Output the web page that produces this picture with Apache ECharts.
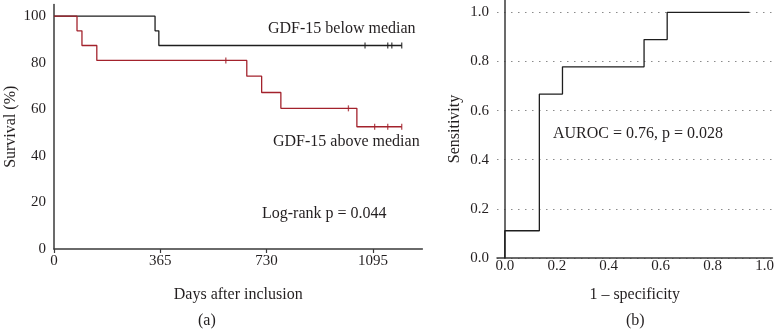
<!DOCTYPE html>
<html>
<head>
<meta charset="utf-8">
<script src="https://cdn.jsdelivr.net/npm/echarts@6/dist/echarts.min.js"></script>
<style>
  html, body { margin: 0; padding: 0; background: #fff; }
  #main { width: 777px; height: 335px; }
</style>
</head>
<body>
<div id="main"></div>
<script>
// Kaplan-Meier (a): days, survival %
var belowDays = [0, 347, 360, 1194];
var belowSurv = [100, 93.7, 87.4, 87.4];
var belowCensDays = [1068, 1146, 1160, 1194];
var belowCensSurv = [87.4, 87.4, 87.4, 87.4];

var aboveDays = [0, 79, 96, 147, 662, 713, 779, 1040, 1194];
var aboveSurv = [100, 93.7, 87.4, 81, 74.2, 67.2, 60.4, 52.5, 52.5];
var aboveCensDays = [590, 1011, 1101, 1146, 1194];
var aboveCensSurv = [81, 60.4, 52.5, 52.5, 52.5];

var kmXTicks = [0, 365, 730, 1095];
var kmYTicks = [0, 20, 40, 60, 80, 100];

// ROC (b)
var rocFpr = [0, 0.133, 0.222, 0.536, 0.625, 0.941];
var rocTpr = [0, 0.111, 0.667, 0.778, 0.889, 1.0];
var rocXTicks = [0, 0.2, 0.4, 0.6, 0.8, 1.0];
var rocYTicks = [0, 0.2, 0.4, 0.6, 0.8, 1.0];

function pairs(xs, ys) {
  return xs.map(function (x, i) { return [x, ys[i]]; });
}

var serif = 'Liberation Serif';
var txt = '#231f20';
var axisCol = '#3a3a3a';
var redCol = '#a3222c';
var font16 = '16px "Liberation Serif"';

var chart = echarts.init(document.getElementById('main'));
chart.setOption({
  animation: false,
  textStyle: { fontFamily: serif, color: txt },
  grid: [
    { left: 54, top: 4.5, width: 368.4, height: 244.5 },
    { left: 497, top: 0, width: 277, height: 258 }
  ],
  xAxis: [{
    gridIndex: 0, type: 'value', min: 0, max: 1265,
    name: 'Days after inclusion', nameLocation: 'middle', nameGap: 38,
    nameTextStyle: { fontFamily: serif, fontSize: 16, color: txt },
    axisLine: { lineStyle: { color: axisCol, width: 1.5 } },
    axisTick: { show: true, length: 4, customValues: kmXTicks, lineStyle: { color: axisCol, width: 1.2 } },
    axisLabel: {
      customValues: kmXTicks, margin: 5, fontFamily: serif, fontSize: 15, color: txt,
      formatter: function (v) { return String(v); }
    },
    splitLine: { show: false }
  }, {
    gridIndex: 1, type: 'value', min: -0.03, max: 1.03,
    name: '1 – specificity', nameLocation: 'middle', nameGap: 29,
    nameTextStyle: { fontFamily: serif, fontSize: 16, color: txt },
    axisLine: { lineStyle: { color: axisCol, width: 1.5 } },
    axisTick: { show: false, customValues: rocXTicks },
    axisLabel: {
      customValues: rocXTicks, margin: 1, fontFamily: serif, fontSize: 15, color: txt,
      formatter: function (v) { return v.toFixed(1); }
    },
    splitLine: { show: false }
  }],
  yAxis: [{
    gridIndex: 0, type: 'value', min: 0, max: 105,
    name: 'Survival (%)', nameLocation: 'middle', nameGap: 35,
    nameTextStyle: { fontFamily: serif, fontSize: 16, color: txt },
    axisLine: { show: true, lineStyle: { color: axisCol, width: 1.5 } },
    axisTick: { show: false, customValues: kmYTicks },
    axisLabel: { customValues: kmYTicks, margin: 8, fontFamily: serif, fontSize: 15, color: txt },
    splitLine: { show: false }
  }, {
    gridIndex: 1, type: 'value', min: 0, max: 1.05,
    name: 'Sensitivity', nameLocation: 'middle', nameGap: 34,
    nameTextStyle: { fontFamily: serif, fontSize: 16, color: txt },
    axisLine: { show: true, lineStyle: { color: axisCol, width: 1.5 } },
    axisTick: { show: false, customValues: rocYTicks },
    axisLabel: {
      customValues: rocYTicks, margin: 8, fontFamily: serif, fontSize: 15, color: txt,
      formatter: function (v) { return v.toFixed(1); }
    },
    splitLine: { show: true, lineStyle: { color: '#8a8a8a', width: 1, type: [1.5, 5.5] } }
  }],
  series: [{
    type: 'line', xAxisIndex: 0, yAxisIndex: 0, step: 'end', symbol: 'none',
    lineStyle: { color: '#1e1e1e', width: 1.3 }, z: 3,
    data: pairs(belowDays, belowSurv)
  }, {
    type: 'line', xAxisIndex: 0, yAxisIndex: 0, step: 'end', symbol: 'none',
    lineStyle: { color: redCol, width: 1.3 }, z: 4,
    data: pairs(aboveDays, aboveSurv)
  }, {
    type: 'scatter', xAxisIndex: 0, yAxisIndex: 0, symbol: 'rect', symbolSize: [1.3, 6],
    itemStyle: { color: '#1e1e1e' }, z: 5,
    data: pairs(belowCensDays, belowCensSurv)
  }, {
    type: 'scatter', xAxisIndex: 0, yAxisIndex: 0, symbol: 'rect', symbolSize: [1.3, 6],
    itemStyle: { color: redCol }, z: 5,
    data: pairs(aboveCensDays, aboveCensSurv)
  }, {
    type: 'line', xAxisIndex: 1, yAxisIndex: 1, step: 'start', symbol: 'none',
    lineStyle: { color: '#1e1e1e', width: 1.3 }, z: 3,
    data: pairs(rocFpr, rocTpr)
  }],
  graphic: [
    { type: 'text', left: 268, top: 21, style: { text: 'GDF-15 below median', font: font16, fill: txt } },
    { type: 'text', left: 273, top: 134, style: { text: 'GDF-15 above median', font: font16, fill: txt } },
    { type: 'text', left: 262, top: 206, style: { text: 'Log-rank p = 0.044', font: font16, fill: txt } },
    { type: 'text', left: 553, top: 126, style: { text: 'AUROC = 0.76, p = 0.028', font: font16, fill: txt } },
    { type: 'text', left: 198, top: 313, style: { text: '(a)', font: font16, fill: txt } },
    { type: 'text', left: 626, top: 313, style: { text: '(b)', font: font16, fill: txt } }
  ]
});
</script>
</body>
</html>
